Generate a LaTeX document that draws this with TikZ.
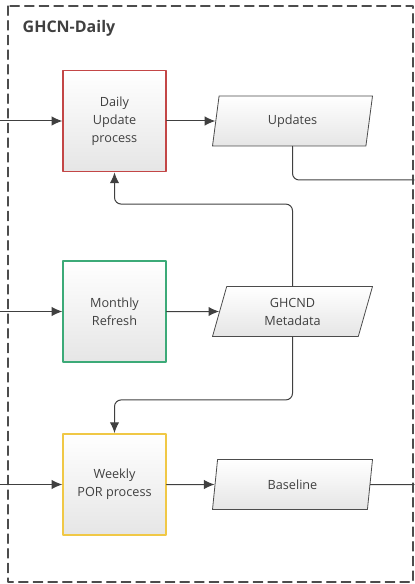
\documentclass[tikz,border=0pt]{standalone}
\usepackage{fontspec}
\setmainfont{Open Sans}
\usetikzlibrary{arrows.meta,shapes.geometric}
\definecolor{dailyred}{RGB}{195,70,70}
\definecolor{monthgreen}{RGB}{60,170,120}
\definecolor{weekyellow}{RGB}{240,200,70}
\begin{document}
\begin{tikzpicture}[x=0.75pt, y=-0.75pt, font=\fontsize{9.5}{13.5}\selectfont, line join=round, line cap=round, >={Latex[length=8pt,width=7pt]},
	proc/.style={draw, line width=1.2pt, minimum width=77pt, minimum height=76pt, preaction={top color=white, bottom color=black!10}, text=black!75, align=center, inner sep=0pt},
	data/.style={trapezium, trapezium left angle=62.5, trapezium right angle=117.5, trapezium stretches body, draw=black!70, line width=0.6pt, minimum width=120pt, minimum height=37.5pt, preaction={top color=white, bottom color=black!10}, text=black!75, align=center, inner sep=0pt},
	flow/.style={draw=black!75, line width=0.75pt}]
			\useasboundingbox (0,0) rectangle (414,584);
			\draw[black!70, line width=0.9pt, dash pattern=on 7pt off 4pt] (8,6) rectangle (413,582);
			\node[anchor=west, font=\fontsize{12}{14}\selectfont\bfseries, text=black!75] (title) at (18,28) {GHCN-Daily};
			\node[proc, draw=dailyred] (daily) at (114.5,121) {Daily\\Update\\process};
			\node[proc, draw=monthgreen] (monthly) at (114.5,311.5) {Monthly\\Refresh};
			\node[proc, draw=weekyellow] (weekly) at (114.5,484.5) {Weekly\\POR process};
			\node[data] (updates) at (292.5,121) {Updates};
			\node[data] (meta) at (292.5,311.5) {GHCND\\Metadata};
			\node[data] (base) at (292.5,484.5) {Baseline};
			\path (0,121) coordinate (indaily)
				(0,311.5) coordinate (inmonthly)
				(0,484.5) coordinate (inweekly)
				(414,180) coordinate (outupdates)
				(414,484.5) coordinate (outbase);
			\foreach \a/\b in {indaily/daily,inmonthly/monthly,inweekly/weekly,daily/updates,monthly/meta,weekly/base}
				\draw[flow,->] (\a)--(\b);
			\draw[flow, rounded corners=5pt] (updates.south) |- (outupdates);
			\draw[flow, ->, rounded corners=5pt] (meta.north) --++(0,-82) -| (daily.south);
			\draw[flow, ->, rounded corners=5pt] (meta.south) --++(0,63) -| (weekly.north);
			\draw[flow] (base)--(outbase);
		\end{tikzpicture}
\end{document}
